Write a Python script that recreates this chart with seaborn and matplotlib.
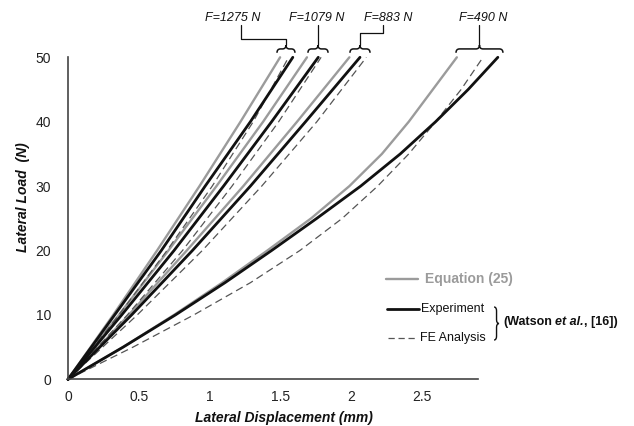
import matplotlib
matplotlib.use("Agg")
import matplotlib.pyplot as plt
import seaborn as sns
import pandas as pd
from matplotlib.path import Path
from matplotlib.patches import PathPatch
from matplotlib.offsetbox import TextArea, HPacker, AnnotationBbox

# ---------------- data ----------------
loads = [0, 10, 20, 30, 40, 50]
loads_490 = [0, 5, 10, 15, 20, 25, 30, 35, 40, 45, 50]

eq_1275 = [0, 0.32, 0.63, 0.93, 1.22, 1.50]
exp_1275 = [0, 0.33, 0.66, 0.97, 1.29, 1.59]
fe_1275 = [0, 0.36, 0.70, 1.02, 1.31, 1.56]

eq_1079 = [0, 0.36, 0.71, 1.05, 1.38, 1.69]
exp_1079 = [0, 0.38, 0.75, 1.10, 1.44, 1.77]
fe_1079 = [0, 0.42, 0.81, 1.16, 1.49, 1.79]

eq_883 = [0, 0.43, 0.84, 1.24, 1.62, 1.99]
exp_883 = [0, 0.45, 0.88, 1.29, 1.68, 2.065]
fe_883 = [0, 0.49, 0.95, 1.37, 1.76, 2.11]

eq_490 = [0, 0.39, 0.75, 1.09, 1.41, 1.72, 1.99, 2.22, 2.41, 2.58, 2.75]
exp_490 = [0, 0.39, 0.76, 1.11, 1.44, 1.76, 2.07, 2.35, 2.60, 2.83, 3.04]
fe_490 = [0, 0.46, 0.89, 1.29, 1.64, 1.94, 2.19, 2.41, 2.60, 2.78, 2.935]

force_labels = ["F=1275 N", "F=1079 N", "F=883 N", "F=490 N"]
x_ticks = [0, 0.5, 1, 1.5, 2, 2.5]
x_tick_labels = ["0", "0.5", "1", "1.5", "2", "2.5"]
y_ticks = [0, 10, 20, 30, 40, 50]

series = [
    ("1275", "Equation", loads, eq_1275), ("1275", "Experiment", loads, exp_1275), ("1275", "FE", loads, fe_1275),
    ("1079", "Equation", loads, eq_1079), ("1079", "Experiment", loads, exp_1079), ("1079", "FE", loads, fe_1079),
    ("883", "Equation", loads, eq_883), ("883", "Experiment", loads, exp_883), ("883", "FE", loads, fe_883),
    ("490", "Equation", loads_490, eq_490), ("490", "Experiment", loads_490, exp_490), ("490", "FE", loads_490, fe_490),
]
rows = []
for force, src, ys, xs in series:
    for x, y in zip(xs, ys):
        rows.append({"force": force, "source": src, "disp": x, "load": y})
df = pd.DataFrame(rows)

# ---------------- figure ----------------
sns.set_style("white")
plt.rcParams["font.family"] = ["Liberation Sans", "DejaVu Sans"]

W, H = 634, 426
fig = plt.figure(figsize=(W / 100, H / 100), dpi=100)
px_per_mm = 141.4
x0_px, y0_px, y50_px = 68, 379.3, 57.3
xmax = 3.1
ax = fig.add_axes([x0_px / W, (H - y0_px) / H, xmax * px_per_mm / W, (y0_px - y50_px) / H])

sns.lineplot(
    data=df, x="disp", y="load", hue="source", style="source", size="source",
    units="force", estimator=None, sort=False, ax=ax, legend=False,
    hue_order=["Equation", "FE", "Experiment"],
    palette={"Equation": "#9b9b9b", "Experiment": "#111111", "FE": "#555555"},
    dashes={"Equation": "", "Experiment": "", "FE": (6, 3.5)},
    sizes={"Equation": 1.7, "Experiment": 2.0, "FE": 0.9},
    clip_on=False,
)

ax.set_xlim(0, xmax)
ax.set_ylim(0, 50)
for s in ["top", "right"]:
    ax.spines[s].set_visible(False)
ax.spines["left"].set_bounds(0, 50)
ax.spines["bottom"].set_bounds(0, 2.9)
for s in ["left", "bottom"]:
    ax.spines[s].set_color("#444444")
    ax.spines[s].set_linewidth(1.2)

ax.set_xticks(x_ticks)
ax.set_xticklabels(x_tick_labels)
ax.set_yticks(y_ticks)
ax.tick_params(axis="both", direction="inout", length=6, width=1.0, color="#444444",
               labelsize=10, labelcolor="#222222")
ax.tick_params(axis="y", pad=9)
ax.tick_params(axis="x", pad=5)
ax.set_xlabel("")
ax.set_ylabel("")

ax.text(0.493, -0.0985, "Lateral Displacement (mm)", transform=ax.transAxes,
        ha="center", va="top", fontsize=10, fontweight="bold", fontstyle="italic", color="#111111")
ax.text(-0.1038, 0.5646, "Lateral Load  (N)", transform=ax.transAxes, rotation=90,
        ha="center", va="center", fontsize=10, fontweight="bold", fontstyle="italic", color="#111111")

# ---------------- top annotations with braces ----------------
MOVETO, LINETO, CURVE3 = Path.MOVETO, Path.LINETO, Path.CURVE3


def hbrace(ax, xa, xb, y, h, q):
    xm = (xa + xb) / 2
    verts = [(xa, y), (xa, y + h / 2), (xa + q, y + h / 2), (xm - q, y + h / 2),
             (xm, y + h / 2), (xm, y + h), (xm, y + h / 2), (xm + q, y + h / 2),
             (xb - q, y + h / 2), (xb, y + h / 2), (xb, y)]
    codes = [MOVETO, CURVE3, CURVE3, LINETO, CURVE3, CURVE3, CURVE3, CURVE3, LINETO, CURVE3, CURVE3]
    ax.add_patch(PathPatch(Path(verts, codes), fill=False, lw=1.1, ec="#111111", clip_on=False))


brace_spans = [(1.478, 1.605), (1.697, 1.839), (1.994, 2.136), (2.744, 3.076)]
for xa, xb in brace_spans:
    hbrace(ax, xa, xb, 50.7, 1.2, 0.025)

connectors = [
    ([1.22, 1.22, 1.5415, 1.5415], [55.0, 52.85, 52.85, 51.9]),
    ([1.768, 1.768], [55.0, 51.9]),
    ([2.228, 2.228, 2.065, 2.065], [55.0, 53.8, 53.8, 51.9]),
    ([2.91, 2.91], [55.0, 51.9]),
]
for xs, ys in connectors:
    ax.plot(xs, ys, color="#111111", lw=0.9, clip_on=False)

label_x = [1.167, 1.761, 2.263, 2.935]
for lx, lab in zip(label_x, force_labels):
    ax.text(lx, 55.2, lab, ha="center", va="bottom", fontsize=9, fontstyle="italic", color="#111111")

# ---------------- legend (drawn manually) ----------------
ax.plot([0.7255, 0.7985], [0.3115, 0.3115], transform=ax.transAxes, color="#9b9b9b", lw=1.7, clip_on=False)
ax.plot([0.7278, 0.8008], [0.2183, 0.2183], transform=ax.transAxes, color="#111111", lw=2.0, clip_on=False)
ax.plot([0.7300, 0.7962], [0.1283, 0.1283], transform=ax.transAxes, color="#555555", lw=0.9,
        ls=(0, (5, 3)), clip_on=False)
ax.text(0.8145, 0.3115, "Equation (25)", transform=ax.transAxes, ha="left", va="center",
        fontsize=10, fontweight="bold", color="#9b9b9b")
ax.text(0.8054, 0.2183, "Experiment", transform=ax.transAxes, ha="left", va="center",
        fontsize=9, color="#111111")
ax.text(0.8030, 0.1283, "FE Analysis", transform=ax.transAxes, ha="left", va="center",
        fontsize=9, color="#111111")

# vertical brace
bx0, bx1, by0, by1 = 0.972, 0.9833, 0.122, 0.2245
bym = (by0 + by1) / 2
qy = 0.012
bxm = bx0 + (bx1 - bx0) / 2
vverts = [(bx0, by1), (bxm, by1), (bxm, by1 - qy),
          (bxm, bym + qy), (bxm, bym), (bx1, bym),
          (bxm, bym), (bxm, bym - qy),
          (bxm, by0 + qy), (bxm, by0), (bx0, by0)]
vcodes = [MOVETO, CURVE3, CURVE3, LINETO, CURVE3, CURVE3, CURVE3, CURVE3, LINETO, CURVE3, CURVE3]
ax.add_patch(PathPatch(Path(vverts, vcodes), fill=False, lw=1.0, ec="#111111",
                       transform=ax.transAxes, clip_on=False))

tp = dict(fontsize=9, fontweight="bold", color="#111111", family=["Liberation Sans", "DejaVu Sans"])
tpi = dict(tp, fontstyle="italic")
inner = HPacker(children=[TextArea("(Watson", textprops=tp), TextArea("et al.", textprops=tpi)],
                align="baseline", pad=0, sep=2.5)
box = HPacker(children=[inner, TextArea(", [16])", textprops=tp)], align="baseline", pad=0, sep=0)
ab = AnnotationBbox(box, (0.9925, 0.178), xycoords="axes fraction", box_alignment=(0, 0.5),
                    frameon=False, pad=0, annotation_clip=False)
ax.add_artist(ab)

fig.savefig("out.png", dpi=100, facecolor="white")
